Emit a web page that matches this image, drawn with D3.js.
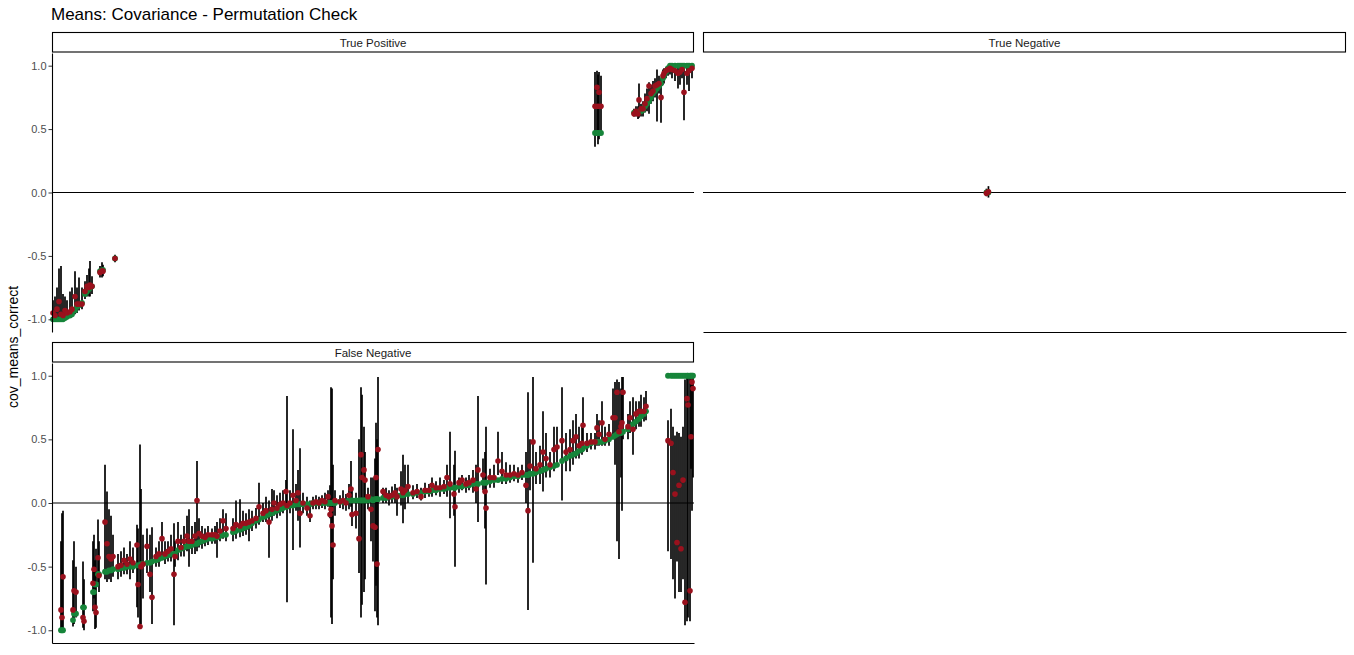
<!DOCTYPE html>
<html><head><meta charset="utf-8">
<script src="https://cdn.jsdelivr.net/npm/d3@7"></script>
<style>
body{margin:0;background:#fff}
svg{display:block}
text{font-family:"Liberation Sans",Arial,Helvetica,sans-serif}
</style>
</head><body>
<svg id="chart" width="1354" height="655"></svg>
<script>
// ---------- data ----------
const chartTitle = "Means: Covariance - Permutation Check";
const yTitle = "cov_means_correct";
const panelNames = ["True Positive", "True Negative", "False Negative"];
const yTicks = [-1, -0.5, 0, 0.5, 1];
const yTickLabels = ["-1.0", "-0.5", "0.0", "0.5", "1.0"];
const rankDomain = [0, 642];
const yDomain = [-1.1, 1.1];

// True Positive
const tpRank = [1,3,5,7,9,11,13,15,18,20,23,25,27,30,33,35,37,38,40,48,50,51,63,543,545,546,547,549,582,584,586,587,589,591,593,595,597,599,601,603,605,607,609,611,612,614,616,618,620,623,626,628,630,632,635,637,640];
const tpTrue = [-1,-1,-1,-1,-1,-1,-0.99,-0.98,-0.97,-0.96,-0.93,-0.9,-0.89,-0.87,-0.8,-0.78,-0.76,-0.75,-0.74,-0.62,-0.62,-0.61,-0.52,0.47,0.47,0.47,0.47,0.47,0.63,0.63,0.63,0.64,0.64,0.65,0.68,0.7,0.72,0.75,0.78,0.8,0.82,0.84,0.86,0.9,0.92,0.95,0.98,1,1,1,1,1,1,1,1,1,1];
const tpEst = [-0.95,-0.97,-0.92,-0.86,-0.96,-0.97,-0.93,-0.95,-0.94,-0.92,-0.82,-0.88,-0.88,-0.88,-0.78,-0.74,-0.75,-0.73,-0.74,-0.63,-0.62,-0.62,-0.52,0.68,0.83,0.68,0.79,0.68,0.62,0.64,0.62,0.73,0.66,0.66,0.7,0.74,0.84,0.78,0.8,0.84,0.85,0.86,0.75,0.92,0.94,0.96,0.97,0.98,0.97,0.96,0.94,0.95,0.97,0.79,0.94,0.96,0.98];
const tpLo = [-1,-1,-1,-1,-1,-1,-1,-1,-0.99,-0.98,-0.96,-0.95,-0.93,-0.92,-0.84,-0.82,-0.82,-0.82,-0.8,-0.67,-0.67,-0.66,-0.55,0.36,0.45,0.38,0.42,0.45,0.6,0.6,0.58,0.59,0.6,0.6,0.63,0.64,0.62,0.7,0.72,0.75,0.56,0.78,0.55,0.85,0.86,0.9,0.92,0.93,0.9,0.88,0.82,0.85,0.9,0.57,0.85,0.8,0.9];
const tpHi = [-0.85,-0.82,-0.75,-0.6,-0.58,-0.8,-0.82,-0.85,-0.78,-0.75,-0.62,-0.75,-0.67,-0.75,-0.7,-0.65,-0.6,-0.54,-0.66,-0.58,-0.55,-0.57,-0.49,0.95,0.96,0.93,0.95,0.92,0.66,0.68,0.68,0.86,0.7,0.72,0.78,0.82,0.87,0.85,0.88,0.9,0.97,0.92,0.9,0.97,0.98,0.99,1,1,1,1,1,1,1,0.98,1,1,1];

// True Negative
const tnRank = [283, 285];
const tnTrue = [0, 0];
const tnEst = [-0.005, 0.005];
const tnLo = [-0.03, -0.04];
const tnHi = [0.03, 0.05];

// False Negative
const fnRank = [9,10,11,21,22,24,31,32,41,42,
43,44,46,47,53,55,57,59,61,66,
69,72,75,78,81,85,86,88,89,91,
95,98,100,104,107,110,113,116,119,122,
123,126,129,132,135,137,140,143,145,147,
150,153,156,160,163,165,168,171,174,181,
184,188,191,194,197,200,204,207,211,214,
217,220,222,225,228,231,234,235,238,241,
244,246,248,251,255,258,261,264,267,270,
273,276,278,279,280,281,283,288,291,294,
297,299,300,304,307,309,310,312,313,316,
321,319,323,324,325,326,331,334,337,340,
343,345,349,351,353,356,361,365,369,373,
377,380,384,388,392,395,398,402,403,407,
410,414,417,421,424,426,431,433,434,438,
442,446,450,454,458,462,466,470,474,476,
478,481,484,488,491,494,498,502,505,510,
514,518,521,524,527,530,531,535,539,543,
545,547,550,553,557,561,563,565,567,569,
570,571,576,578,581,584,587,589,592,594,
616,619,621,623,625,627,629,631,633,635,
636,638,639,640,641];
const fnTrue = [-1,-1,-1,-0.92,-0.87,-0.87,-0.82,-0.82,-0.70,-0.70,
-0.64,-0.64,-0.56,-0.56,-0.54,-0.54,-0.53,-0.53,-0.52,-0.52,
-0.51,-0.51,-0.50,-0.50,-0.50,-0.49,-0.49,-0.49,-0.48,-0.48,
-0.47,-0.47,-0.46,-0.45,-0.44,-0.43,-0.42,-0.41,-0.40,-0.40,
-0.40,-0.37,-0.36,-0.35,-0.34,-0.34,-0.33,-0.32,-0.32,-0.31,
-0.30,-0.29,-0.28,-0.28,-0.27,-0.27,-0.26,-0.25,-0.25,-0.23,
-0.22,-0.21,-0.20,-0.19,-0.18,-0.16,-0.14,-0.13,-0.11,-0.10,
-0.09,-0.08,-0.07,-0.06,-0.05,-0.04,-0.03,-0.03,-0.02,-0.02,
-0.01,-0.01,-0.01,-0.01,-0.01,-0.01,0,0,0,0,
0,0,0,0,0,0,0,0.01,0.01,0.01,
0.02,0.02,0.02,0.02,0.02,0.02,0.02,0.02,0.02,0.02,
0.02,0.03,0.03,0.03,0.03,0.03,0.04,0.04,0.05,0.05,
0.06,0.06,0.06,0.06,0.07,0.07,0.07,0.08,0.08,0.09,
0.09,0.10,0.10,0.11,0.11,0.12,0.12,0.12,0.12,0.13,
0.13,0.14,0.14,0.15,0.15,0.15,0.16,0.16,0.16,0.17,
0.18,0.18,0.19,0.19,0.20,0.21,0.21,0.22,0.22,0.22,
0.23,0.23,0.24,0.25,0.26,0.27,0.28,0.29,0.30,0.33,
0.35,0.37,0.38,0.39,0.41,0.42,0.43,0.45,0.47,0.48,
0.48,0.48,0.48,0.49,0.50,0.52,0.53,0.54,0.55,0.55,
0.56,0.56,0.58,0.60,0.62,0.64,0.66,0.68,0.70,0.72,
1,1,1,1,1,1,1,1,1,1,
1,1,1,1,1];
const fnEst = [-0.84,-0.90,-0.58,-0.84,-0.69,-0.70,-0.90,-0.93,-0.63,-0.52,
-0.82,-0.86,-0.43,-0.57,-0.15,-0.32,-0.42,-0.44,-0.42,-0.50,
-0.49,-0.45,-0.48,-0.44,-0.47,-0.33,-0.64,-0.97,-0.50,-0.48,
-0.34,-0.56,-0.74,-0.42,-0.40,-0.28,-0.40,-0.38,-0.36,-0.56,
-0.42,-0.30,-0.35,-0.30,-0.26,-0.30,-0.30,-0.26,0.02,-0.24,
-0.26,-0.27,-0.25,-0.25,-0.25,-0.26,-0.22,-0.14,-0.20,-0.20,
-0.17,-0.18,-0.16,-0.16,-0.15,-0.14,-0.12,-0.03,-0.08,-0.06,
-0.15,-0.05,0.00,-0.04,-0.01,0.00,0.09,-0.02,0.00,0.06,
0.02,0.08,-0.08,0.00,-0.04,-0.10,0.00,0.01,0.00,0.02,
0.01,0.05,-0.09,-0.05,-0.18,-0.33,0.02,0.01,0.02,0.00,
0.06,0.11,-0.09,-0.08,-0.28,0.38,0.20,0.26,0.18,0.05,
-0.18,-0.05,-0.19,0.20,-0.48,0.42,0.09,0.06,0.05,0.06,
0.08,0.05,0.11,0.08,0.10,0.13,0.08,0.09,0.05,0.10,
0.10,0.14,0.12,0.12,0.13,0.20,0.15,0.07,-0.03,0.16,
0.18,0.15,0.16,0.18,0.11,0.26,0.22,0.09,-0.04,0.20,
0.20,0.33,0.25,0.22,0.22,0.23,0.22,0.24,0.14,-0.06,
0.29,0.48,0.27,0.30,0.40,0.35,0.30,0.42,0.44,0.49,
0.40,0.42,0.49,0.52,0.45,0.47,0.61,0.47,0.48,0.48,
0.59,0.54,0.63,0.50,0.54,0.67,0.67,0.87,0.56,0.60,
0.63,0.87,0.60,0.67,0.58,0.70,0.72,0.72,0.72,0.76,
0.49,0.47,0.24,0.07,-0.31,0.14,-0.36,0.18,-0.78,0.82,
0.77,-0.69,0.52,0.95,0.90];
const fnLo = [-1.0,-1.0,-0.99,-0.97,-0.95,-0.90,-0.98,-1.0,-0.85,-0.75,
-0.99,-0.98,-0.62,-0.70,-0.60,-0.62,-0.60,-0.62,-0.58,-0.60,
-0.58,-0.56,-0.56,-0.60,-0.55,-0.82,-0.90,-0.98,-0.95,-0.75,
-0.55,-0.70,-0.95,-0.50,-0.50,-0.45,-0.48,-0.46,-0.46,-0.96,
-0.50,-0.45,-0.42,-0.42,-0.38,-0.50,-0.40,-0.40,-0.38,-0.35,
-0.36,-0.34,-0.33,-0.32,-0.32,-0.43,-0.30,-0.28,-0.30,-0.30,
-0.28,-0.27,-0.26,-0.25,-0.30,-0.22,-0.20,-0.17,-0.15,-0.15,
-0.43,-0.14,-0.10,-0.12,-0.10,-0.08,-0.05,-0.78,-0.08,-0.37,
-0.06,-0.14,-0.35,-0.08,-0.10,-0.15,-0.05,-0.05,-0.05,-0.04,
-0.05,-0.03,-0.12,-0.90,-0.95,-0.60,-0.10,-0.04,-0.05,-0.06,
-0.05,-0.03,-0.18,-0.20,-0.55,-0.90,-0.80,-0.70,-0.60,-0.05,
-0.46,-0.30,-0.85,-0.65,-0.90,-0.96,0.00,0.00,-0.02,0.00,
0.00,-0.10,-0.02,-0.16,-0.05,0.00,0.03,0.04,0.02,0.04,
0.05,0.05,0.06,0.05,0.07,0.05,-0.12,-0.10,-0.50,0.08,
0.10,0.08,0.10,0.08,0.00,-0.15,0.10,-0.20,-0.64,0.12,
0.12,0.22,0.15,0.15,0.16,0.17,0.16,0.18,0.00,-0.84,
0.10,-0.47,0.15,0.15,0.09,0.20,0.20,0.25,0.28,0.02,
0.25,0.25,0.30,0.35,0.35,0.38,0.40,0.40,0.42,0.42,
0.45,0.45,0.45,0.45,0.45,0.50,0.30,-0.30,-0.44,0.20,
-0.06,0.50,0.50,0.55,0.38,0.58,0.60,0.60,0.64,0.65,
-0.38,-0.44,-0.60,-0.75,-0.46,-0.70,-0.70,-0.60,-0.96,-0.93,
-0.90,-0.93,0.27,-0.06,0.20];
const fnHi = [-0.30,-0.08,-0.06,-0.45,-0.30,-0.50,-0.46,-0.60,-0.30,-0.25,
-0.45,-0.36,-0.13,-0.30,0.30,0.09,-0.05,-0.10,-0.25,-0.40,
-0.38,-0.35,-0.40,-0.30,-0.35,-0.17,-0.20,0.46,0.11,-0.25,
-0.20,-0.25,-0.19,-0.35,-0.30,-0.15,-0.30,-0.30,-0.25,-0.16,
-0.30,-0.15,-0.25,-0.18,-0.10,-0.05,-0.18,-0.15,0.33,-0.12,
-0.18,-0.20,-0.18,-0.20,-0.18,-0.15,-0.12,-0.05,-0.08,-0.12,
0.02,0.03,-0.06,-0.08,-0.05,-0.06,-0.04,0.16,0.00,0.05,
0.02,0.11,0.10,0.06,0.08,0.10,0.18,0.84,0.10,0.58,
0.15,0.26,0.43,0.08,0.05,0.02,0.05,0.06,0.05,0.06,
0.08,0.10,0.14,0.91,0.90,0.30,0.10,0.06,0.10,0.07,
0.15,0.33,0.12,0.08,0.50,0.91,0.85,0.60,0.40,0.12,
0.20,0.20,0.35,0.63,0.50,0.99,0.12,0.12,0.10,0.13,
0.15,0.12,0.25,0.38,0.30,0.30,0.14,0.15,0.12,0.16,
0.15,0.20,0.17,0.20,0.18,0.30,0.56,0.30,0.41,0.20,
0.22,0.20,0.22,0.26,0.30,0.84,0.35,0.40,0.60,0.27,
0.30,0.56,0.40,0.32,0.30,0.30,0.28,0.30,0.40,0.87,
0.50,0.99,0.40,0.45,0.72,0.55,0.40,0.60,0.60,0.91,
0.55,0.58,0.65,0.70,0.60,0.60,0.83,0.55,0.55,0.55,
0.70,0.65,0.80,0.60,0.62,0.90,0.95,0.97,0.95,0.90,
0.99,0.99,0.70,0.80,0.83,0.80,0.80,0.85,0.83,0.88,
0.65,0.74,0.60,0.53,0.56,0.55,0.52,0.60,0.97,1.0,
0.99,0.99,0.97,1.0,1.0];

// ---------- build ----------
function rows(rank, tr, est, lo, hi) {
  return rank.map((r, i) => ({ r, t: tr[i], e: est[i], lo: lo[i], hi: hi[i] }));
}
const panelRows = [
  rows(tpRank, tpTrue, tpEst, tpLo, tpHi),
  rows(tnRank, tnTrue, tnEst, tnLo, tnHi),
  rows(fnRank, fnTrue, fnEst, fnLo, fnHi)
];

// layout (positions only)
const layout = [
  { x0: 52, x1: 694, sy0: 32, y0: 53, y1: 332, left: true, bottom: false },
  { x0: 703, x1: 1346, sy0: 32, y0: 53, y1: 332, left: false, bottom: true },
  { x0: 52, x1: 694, sy0: 342, y0: 363, y1: 643, left: true, bottom: true }
];
const RED = "#9A111D", GREEN = "#16853A";

const svg = d3.select("#chart");

svg.append("text").attr("x", 51).attr("y", 20)
  .attr("font-size", 17).attr("fill", "#000").text(chartTitle);

svg.append("text")
  .attr("transform", "translate(18,347) rotate(-90)")
  .attr("text-anchor", "middle").attr("font-size", 14).attr("fill", "#000")
  .text(yTitle);

layout.forEach((L, pi) => {
  const data = panelRows[pi];
  const x = d3.scaleLinear().domain(rankDomain).range([L.x0, L.x1]);
  const y = d3.scaleLinear().domain(yDomain).range([L.y1, L.y0]);
  const g = svg.append("g");

  // strip
  g.append("rect").attr("x", L.x0 + 0.5).attr("y", L.sy0 + 0.5)
    .attr("width", L.x1 - L.x0 - 1).attr("height", L.y0 - L.sy0 - 1.5)
    .attr("fill", "#fff").attr("stroke", "#000").attr("stroke-width", 1.1);
  g.append("text").attr("x", (L.x0 + L.x1) / 2).attr("y", (L.sy0 + L.y0) / 2 + 4)
    .attr("text-anchor", "middle").attr("font-size", 11.5).attr("fill", "#1a1a1a")
    .text(panelNames[pi]);

  // zero line
  g.append("line").attr("x1", L.x0).attr("x2", L.x1)
    .attr("y1", y(0)).attr("y2", y(0))
    .attr("stroke", "#000").attr("stroke-width", 1.1);

  // error bars
  g.append("g").selectAll("line").data(data).join("line")
    .attr("x1", d => x(d.r)).attr("x2", d => x(d.r))
    .attr("y1", d => y(d.lo)).attr("y2", d => y(d.hi))
    .attr("stroke", "#000").attr("stroke-width", 1.7);

  // true values
  g.append("g").selectAll("circle").data(data).join("circle")
    .attr("cx", d => x(d.r)).attr("cy", d => y(d.t)).attr("r", 2.9)
    .attr("fill", GREEN);

  // estimates
  g.append("g").selectAll("circle").data(data).join("circle")
    .attr("cx", d => x(d.r)).attr("cy", d => y(d.e)).attr("r", 2.8)
    .attr("fill", RED);

  if (L.left) {
    const ax = g.append("g").attr("transform", `translate(${L.x0},0)`)
      .call(d3.axisLeft(y).tickValues(yTicks)
        .tickFormat((d, i) => yTickLabels[i]).tickSize(3.5).tickSizeOuter(0).tickPadding(2));
    ax.select(".domain").attr("stroke", "#000").attr("stroke-width", 1.1);
    ax.selectAll(".tick line").attr("stroke", "#333");
    ax.selectAll(".tick text").attr("fill", "#4d4d4d").attr("font-size", 11)
      .attr("font-family", '"Liberation Sans",Arial,sans-serif');
  }
  if (L.bottom) {
    const bx = g.append("g").attr("transform", `translate(0,${L.y1})`)
      .call(d3.axisBottom(x).tickValues([]).tickSizeOuter(0));
    bx.select(".domain").attr("stroke", "#000").attr("stroke-width", 1.1);
  }
});
</script>
</body></html>
